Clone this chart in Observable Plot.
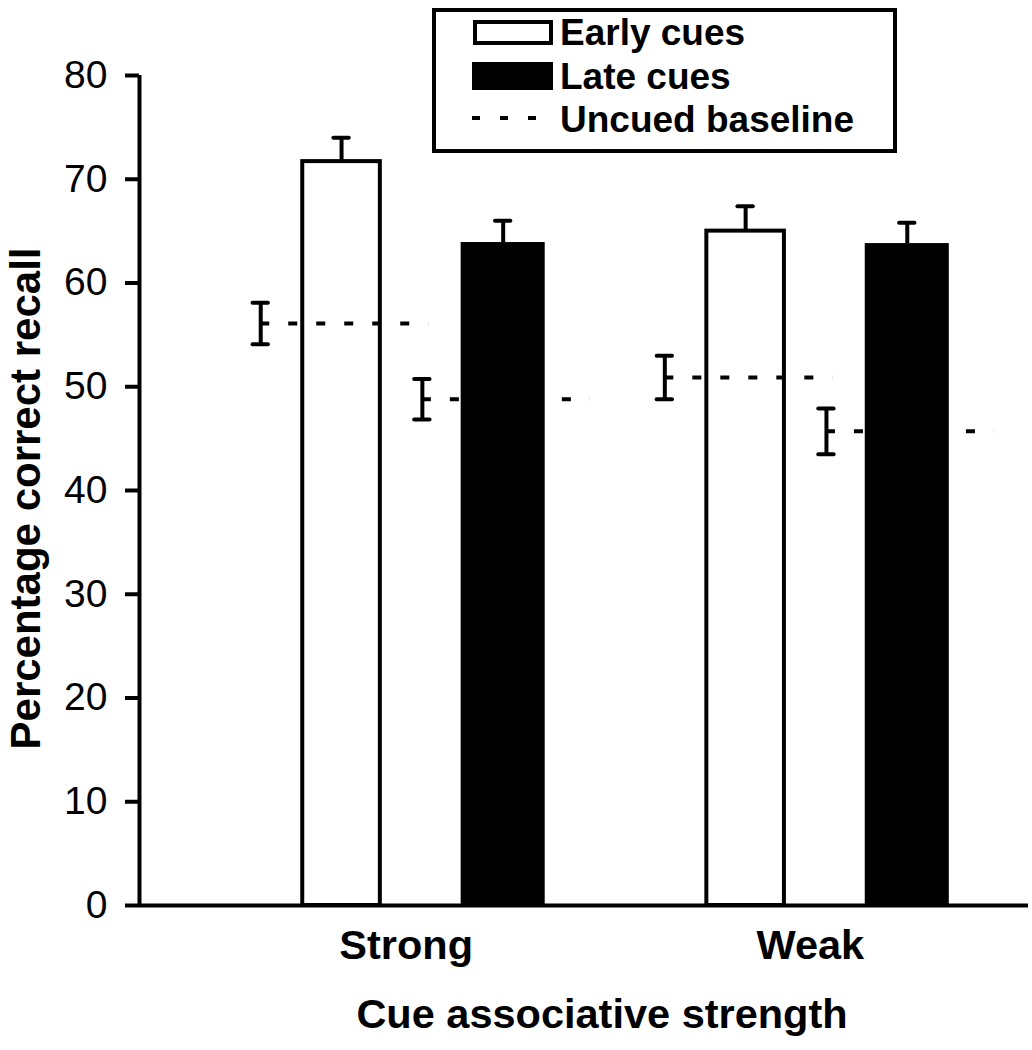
<!DOCTYPE html>
<html>
<head>
<meta charset="utf-8">
<script src="https://cdn.jsdelivr.net/npm/d3@7"></script>
<script src="https://cdn.jsdelivr.net/npm/@observablehq/plot@0.6"></script>
<style>
  html, body { margin: 0; padding: 0; background: #fff; }
  #wrap { position: relative; width: 1032px; height: 1050px; font-family: "Liberation Sans", Arial, sans-serif; }
  #legend { position: absolute; left: 0; top: 0; pointer-events: none; }
</style>
</head>
<body>
<div id="wrap"></div>
<script>
// ---- data ----
const groups = ["Strong", "Weak"];
const earlyCues = [71.7, 65.0];
const earlyErr = [2.3, 2.4];
const lateCues = [63.9, 63.8];
const lateErr = [2.1, 2.0];
const baselineEarly = [56.1, 50.9];
const baselineEarlyErr = [2.0, 2.1];
const baselineLate = [48.8, 45.7];
const baselineLateErr = [1.95, 2.2];
const yTicks = [0, 10, 20, 30, 40, 50, 60, 70, 80];
const legendItems = ["Early cues", "Late cues", "Uncued baseline"];
const xTitle = "Cue associative strength";
const yTitle = "Percentage correct recall";

// ---- layout (slot positions on a linear x scale) ----
const SLOTS = 5;
const bars = groups.flatMap((g, i) => [
  {group: g, kind: "early", s: i * SLOTS + 2, value: earlyCues[i], err: earlyErr[i]},
  {group: g, kind: "late", s: i * SLOTS + 4, value: lateCues[i], err: lateErr[i]}
]);
const base = groups.flatMap((g, i) => [
  {group: g, kind: "early", s: i * SLOTS + 1, value: baselineEarly[i], err: baselineEarlyErr[i]},
  {group: g, kind: "late", s: i * SLOTS + 3, value: baselineLate[i], err: baselineLateErr[i]}
]);
const catLabels = groups.map((g, i) => ({label: g, s: i * SLOTS + 2.8}));

const HW = 0.5, CAP = 0.095, SW = 4;

const chart = Plot.plot({
  width: 1032,
  height: 1050,
  marginLeft: 139,
  marginRight: 4,
  marginTop: 75,
  marginBottom: 145,
  style: {fontFamily: "Liberation Sans, Arial, sans-serif", color: "black", background: "white"},
  x: {domain: [-0.5, 10.5], axis: null},
  y: {domain: [0, 80], axis: null},
  marks: [
    // bars
    Plot.rect(bars.filter(d => d.kind === "early"), {x1: d => d.s - HW + 0.02, x2: d => d.s + HW - 0.02, y1: 0, y2: "value", fill: "white", stroke: "black", strokeWidth: SW}),
    Plot.rect(bars.filter(d => d.kind === "late"), {x1: d => d.s - HW - 0.02, x2: d => d.s + HW + 0.02, y1: 0, y2: "value", fill: "black"}),
    // bar error bars (upper)
    Plot.ruleX(bars, {x: "s", y1: "value", y2: d => d.value + d.err, stroke: "black", strokeWidth: SW}),
    Plot.ruleY(bars, {y: d => d.value + d.err, x1: d => d.s - CAP, x2: d => d.s + CAP, stroke: "black", strokeWidth: SW, strokeLinecap: "round"}),
    // uncued baselines (dashed)
    Plot.ruleY(base, {y: "value", x1: "s", x2: d => d.s + 2.08, stroke: "black", strokeWidth: 4, strokeDasharray: "9,19"}),
    Plot.ruleX(base, {x: "s", y1: d => d.value - d.err, y2: d => d.value + d.err, stroke: "black", strokeWidth: SW}),
    Plot.ruleY(base, {y: d => d.value + d.err, x1: d => d.s - CAP, x2: d => d.s + CAP, stroke: "black", strokeWidth: SW, strokeLinecap: "round"}),
    Plot.ruleY(base, {y: d => d.value - d.err, x1: d => d.s - CAP, x2: d => d.s + CAP, stroke: "black", strokeWidth: SW, strokeLinecap: "round"}),
    // axes
    Plot.ruleX([-0.5], {y1: 0, y2: 80, stroke: "black", strokeWidth: SW}),
    Plot.ruleY([0], {stroke: "black", strokeWidth: SW}),
    Plot.axisY({ticks: yTicks, tickSize: 14, tickPadding: 18, fontSize: 39, strokeWidth: SW, label: null, tickFormat: d => String(d)}),
    // category labels
    Plot.text(catLabels, {x: "s", y: 0, text: "label", dy: 40, fontSize: 41.5, fontWeight: "bold", textAnchor: "middle", lineAnchor: "middle"}),
    // axis titles
    Plot.text([xTitle], {frameAnchor: "bottom", dx: 18, dy: 109, fontSize: 41.5, fontWeight: "bold", textAnchor: "middle", lineAnchor: "middle"}),
    Plot.text([yTitle], {frameAnchor: "left", rotate: -90, dx: -113.4, dy: 8, fontSize: 42, fontWeight: "bold", textAnchor: "middle", lineAnchor: "middle"})
  ]
});

const wrap = document.getElementById("wrap");
wrap.appendChild(chart);

// ---- legend overlay ----
const lg = d3.select(wrap).append("svg")
  .attr("id", "legend")
  .attr("width", 1032).attr("height", 170)
  .style("font-family", "Liberation Sans, Arial, sans-serif");
lg.append("rect").attr("x", 434).attr("y", 10).attr("width", 461).attr("height", 141)
  .attr("fill", "white").attr("stroke", "black").attr("stroke-width", 4);
// swatches
lg.append("rect").attr("x", 475).attr("y", 22).attr("width", 76).attr("height", 21)
  .attr("fill", "white").attr("stroke", "black").attr("stroke-width", 4);
lg.append("rect").attr("x", 472).attr("y", 62).attr("width", 81).attr("height", 28)
  .attr("fill", "black");
lg.append("line").attr("x1", 472).attr("x2", 537).attr("y1", 118).attr("y2", 118)
  .attr("stroke", "black").attr("stroke-width", 4).attr("stroke-dasharray", "8,20");
const baselines = [45, 89, 132];
lg.selectAll("text.lab").data(legendItems).join("text")
  .attr("class", "lab")
  .attr("x", 560).attr("y", (d, i) => baselines[i])
  .attr("font-size", 37).attr("font-weight", "bold").attr("fill", "black")
  .text(d => d);
</script>
</body>
</html>
